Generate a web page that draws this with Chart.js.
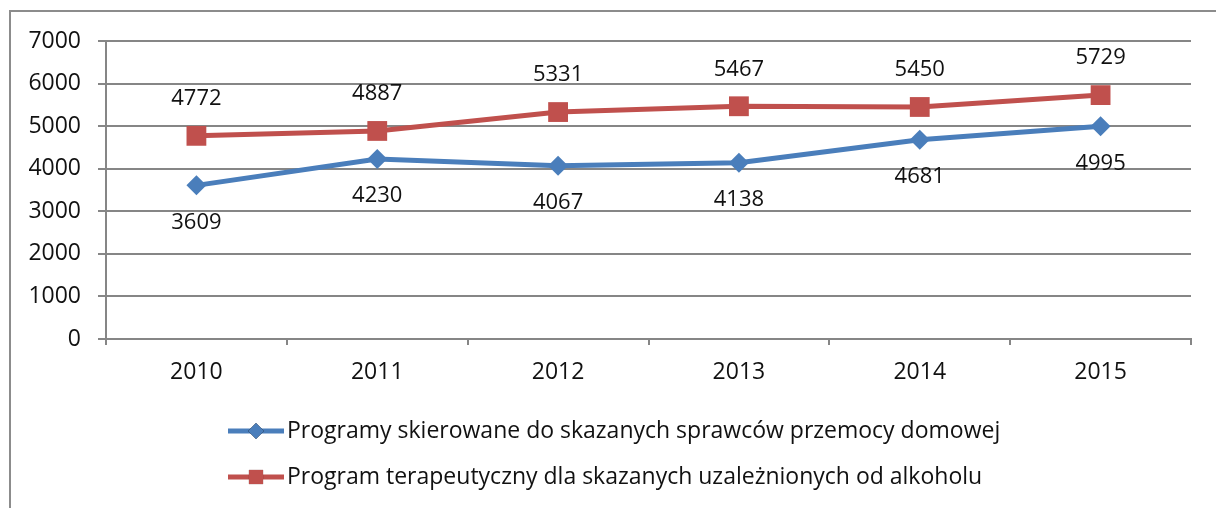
<!DOCTYPE html>
<html>
<head>
<meta charset="utf-8">
<script src="https://cdn.jsdelivr.net/npm/chart.js@4/dist/chart.umd.min.js"></script>
<style>
  html, body { margin: 0; padding: 0; background: #fff; }
  #wrap { width: 1216px; height: 508px; position: relative; }
</style>
</head>
<body>
<div id="wrap"><canvas id="c" width="1216" height="508"></canvas></div>
<script>
const years = ['2010', '2011', '2012', '2013', '2014', '2015'];
const violenceLabel = 'Programy skierowane do skazanych sprawców przemocy domowej';
const violenceValues = [3609, 4230, 4067, 4138, 4681, 4995];
const alcoholLabel = 'Program terapeutyczny dla skazanych uzależnionych od alkoholu';
const alcoholValues = [4772, 4887, 5331, 5467, 5450, 5729];
const yTicks = [0, 1000, 2000, 3000, 4000, 5000, 6000, 7000];

const FONT = "'Open Sans', 'Liberation Sans', sans-serif";
const BLUE = '#4a7ebb';
const RED = '#c0504d';
const GRID = '#868686';
const TEXT = '#111';

// outer frame of the chart object
const framePlugin = {
  id: 'frame',
  beforeDraw(chart) {
    const ctx = chart.ctx;
    ctx.save();
    ctx.strokeStyle = '#8c8c8c';
    ctx.lineWidth = 2;
    ctx.beginPath();
    ctx.moveTo(10, 600);
    ctx.lineTo(10, 11);
    ctx.lineTo(1300, 11);
    ctx.stroke();
    ctx.restore();
  }
};

// value labels: red series above its points, blue series below
const valueLabels = {
  id: 'valueLabels',
  afterDatasetsDraw(chart) {
    const ctx = chart.ctx;
    ctx.save();
    ctx.font = '22px ' + FONT;
    ctx.fillStyle = TEXT;
    ctx.textAlign = 'center';
    ctx.textBaseline = 'middle';
    chart.data.datasets.forEach((ds, di) => {
      const meta = chart.getDatasetMeta(di);
      const dy = ds.labelSide === 'above' ? -37 : 37;
      meta.data.forEach((pt, i) => {
        ctx.fillText(String(ds.data[i]), pt.x, pt.y + dy);
      });
    });
    ctx.restore();
  }
};

// legend with line + marker samples, stacked in two rows
const lineLegend = {
  id: 'lineLegend',
  afterDraw(chart) {
    const ctx = chart.ctx;
    const rows = [431, 477];
    ctx.save();
    chart.data.datasets.forEach((ds, i) => {
      const y = rows[i];
      ctx.strokeStyle = ds.borderColor;
      ctx.lineWidth = 5;
      ctx.beginPath();
      ctx.moveTo(228, y);
      ctx.lineTo(284, y);
      ctx.stroke();
      Chart.helpers.drawPoint(ctx, {
        pointStyle: ds.pointStyle,
        radius: ds.legendRadius,
        borderWidth: 0,
        rotation: 0
      }, 256, y);
      ctx.fillStyle = ds.backgroundColor;
      ctx.fill();
      ctx.font = '23px ' + FONT;
      ctx.fillStyle = TEXT;
      ctx.textAlign = 'left';
      ctx.textBaseline = 'middle';
      ctx.fillText(ds.label, 287, y);
    });
    ctx.restore();
  }
};

new Chart(document.getElementById('c'), {
  type: 'line',
  data: {
    labels: years,
    datasets: [
      {
        label: violenceLabel,
        data: violenceValues,
        borderColor: BLUE,
        backgroundColor: BLUE,
        borderWidth: 5,
        pointStyle: 'rectRot',
        pointRadius: 10,
        pointHoverRadius: 10,
        pointBorderWidth: 0,
        legendRadius: 8,
        labelSide: 'below',
        tension: 0
      },
      {
        label: alcoholLabel,
        data: alcoholValues,
        borderColor: RED,
        backgroundColor: RED,
        borderWidth: 5,
        pointStyle: 'rect',
        pointRadius: 14,
        pointHoverRadius: 14,
        pointBorderWidth: 0,
        legendRadius: 10,
        labelSide: 'above',
        tension: 0
      }
    ]
  },
  options: {
    responsive: false,
    animation: false,
    events: [],
    layout: { padding: { left: 0, right: 25, top: 41, bottom: 0 } },
    plugins: {
      legend: { display: false },
      tooltip: { enabled: false }
    },
    scales: {
      x: {
        type: 'category',
        offset: true,
        grid: {
          offset: true,
          drawOnChartArea: false,
          drawTicks: true,
          tickLength: 6,
          color: GRID,
          lineWidth: 2
        },
        border: { display: true, color: GRID, width: 2 },
        ticks: {
          color: TEXT,
          font: { family: FONT, size: 23 },
          padding: 14,
          maxRotation: 0
        },
        afterFit(scale) { scale.height = 169; }
      },
      y: {
        min: 0,
        max: 7000,
        afterBuildTicks(scale) { scale.ticks = yTicks.map(v => ({ value: v })); },
        grid: {
          color: GRID,
          lineWidth: 2,
          drawTicks: true,
          tickLength: 8
        },
        border: { display: true, color: GRID, width: 2 },
        ticks: {
          color: TEXT,
          font: { family: FONT, size: 23 },
          padding: 17,
          callback: (v) => String(v)
        },
        afterFit(scale) { scale.width = 106; }
      }
    }
  },
  plugins: [framePlugin, valueLabels, lineLegend]
});
</script>
</body>
</html>
